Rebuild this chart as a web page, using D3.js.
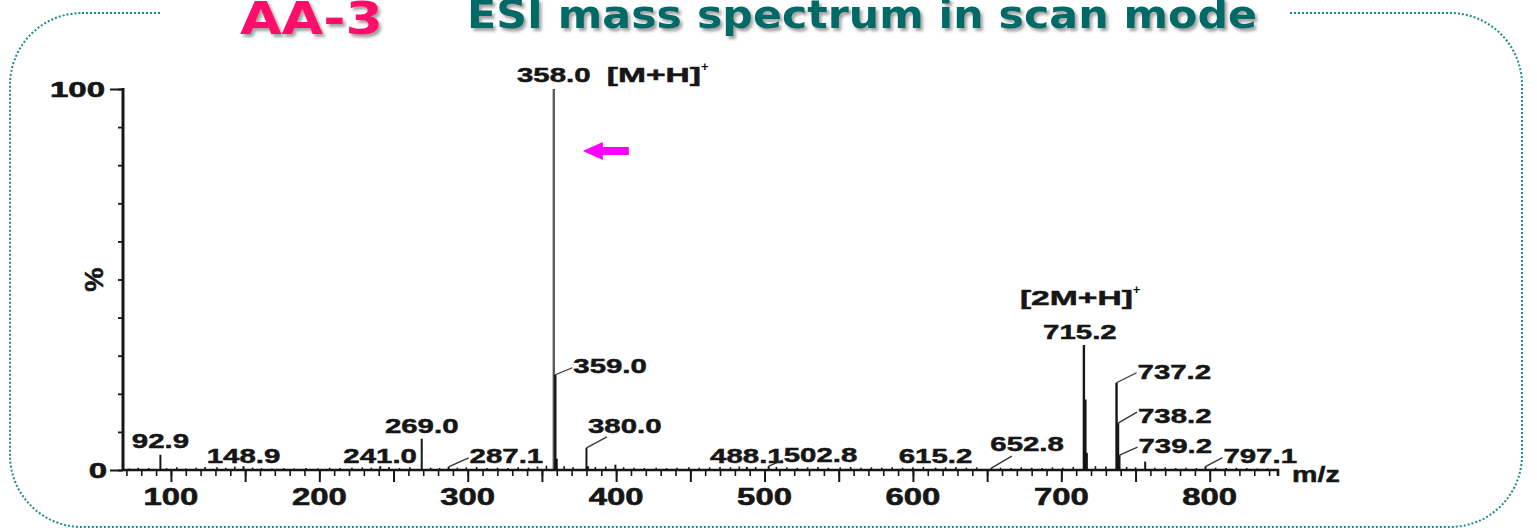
<!DOCTYPE html>
<html>
<head>
<meta charset="utf-8">
<script src="https://cdn.jsdelivr.net/npm/d3@7"></script>
<style>
  html, body { margin: 0; padding: 0; background: #fff; overflow: hidden; }
  svg { display: block; }
</style>
</head>
<body>
<svg id="chart" width="1537" height="528"></svg>
<script>
// ---- Ions of AA-3 (m/z, relative abundance %) ----
const peakMz        = [92.9, 148.9, 241.0, 269.0, 287.1, 358.0, 359.0, 360.0, 380.0, 381.0, 399.5,
                       488.1, 502.8, 615.2, 652.8, 715.2, 716.2, 717.2, 737.2, 738.2, 739.2, 756.5, 797.1];
const peakIntensity = [4.0, 1.0, 1.0, 8.2, 0.8, 100, 25, 3.0, 5.8, 1.0, 1.4,
                       0.8, 1.0, 0.6, 0.5, 32.8, 18.5, 4.5, 22.9, 12.3, 3.9, 2.2, 0.9];

// ---- Baseline noise ----
const noiseMz = [72, 78, 85, 97, 104, 110, 117, 123, 131, 137,
                 143, 155, 161, 168, 176, 183, 191, 199, 207, 214,
                 222, 229, 235, 247, 254, 261, 275, 281, 293, 299,
                 306, 313, 320, 327, 334, 341, 347, 353, 365, 371,
                 386, 393, 405, 412, 419, 427, 434, 441, 449, 456,
                 463, 470, 477, 483, 494, 508, 515, 522, 529, 536,
                 543, 551, 558, 565, 572, 579, 586, 593, 600, 607,
                 622, 629, 636, 643, 659, 666, 673, 680, 687, 694,
                 701, 708, 723, 730, 744, 750, 763, 770, 777, 784,
                 791, 804, 811, 818, 825, 832, 839];
const noiseIntensity = [0.4, 0.6, 0.5, 0.5, 0.7, 0.4, 0.6, 0.8, 0.7, 0.6,
                        0.9, 0.6, 0.5, 0.4, 0.5, 0.4, 0.5, 0.4, 0.6, 0.5,
                        0.6, 0.7, 0.6, 0.8, 0.5, 0.7, 0.6, 0.5, 0.6, 0.7,
                        0.8, 0.5, 0.6, 0.5, 0.7, 0.6, 0.9, 1.1, 1.0, 0.7,
                        0.8, 0.9, 0.7, 0.6, 0.5, 0.6, 0.5, 0.6, 0.7, 0.6,
                        0.7, 0.8, 0.7, 0.9, 0.8, 0.8, 0.7, 0.6, 0.7, 0.8,
                        0.6, 0.7, 0.8, 0.6, 0.7, 0.6, 0.7, 0.6, 0.7, 0.8,
                        0.7, 0.8, 0.6, 0.7, 0.6, 0.5, 0.7, 0.6, 0.5, 0.7,
                        0.6, 0.8, 1.0, 0.9, 0.8, 0.7, 0.6, 0.7, 0.5, 0.6,
                        0.5, 0.6, 0.5, 0.6, 0.5, 0.4, 0.4];

// ---- Annotated ions ----
const labelMz = [92.9, 148.9, 241.0, 269.0, 287.1, 358.0, 359.0, 380.0, 488.1, 502.8,
                 615.2, 652.8, 715.2, 737.2, 738.2, 739.2, 797.1];

// ---- Axis ticks ----
const xTickLabels = [100, 200, 300, 400, 500, 600, 700, 800];
const yTickLabels = [0, 100];
const xDomain = [67.7, 846];
const yDomain = [0, 100];

// Text titles
const titleCompound = "AA-3";
const titleMethod = "ESI mass spectrum in scan mode";
const ionLabels = [{ mz: 358.0, text: "[M+H]" }, { mz: 715.2, text: "[2M+H]" }];

// ---- label placement, in px relative to the top of the labelled line ----
const labelLayout = {
  "92.9":  { anchor: "middle", dx: 0,   dy: -7 },
  "148.9": { anchor: "middle", dx: 0,   dy: -3 },
  "241.0": { anchor: "middle", dx: 0,   dy: -3 },
  "269.0": { anchor: "middle", dx: 0,   dy: -6 },
  "287.1": { anchor: "start",  dx: 21,  dy: -4,  leader: [20, -9] },
  "358.0": { anchor: "middle", dx: 0,   dy: -7 },
  "359.0": { anchor: "start",  dx: 18,  dy: -2,  leader: [17, -7] },
  "380.0": { anchor: "start",  dx: 1.5, dy: -15, leader: [20.5, -11] },
  "488.1": { anchor: "middle", dx: 0,   dy: -4 },
  "502.8": { anchor: "start",  dx: 15,  dy: -4,  leader: [14, -6] },
  "615.2": { anchor: "middle", dx: 0,   dy: -5 },
  "652.8": { anchor: "start",  dx: -1,  dy: -17, leader: [20.5, -12] },
  "715.2": { anchor: "middle", dx: -4,  dy: -6 },
  "737.2": { anchor: "start",  dx: 21,  dy: -4,  leader: [20, -10] },
  "738.2": { anchor: "start",  dx: 20,  dy: 0,   leader: [19, -11] },
  "739.2": { anchor: "start",  dx: 19,  dy: -2,  leader: [18, -8] },
  "797.1": { anchor: "start",  dx: 18,  dy: -4,  leader: [17, -9] }
};

const svg = d3.select("#chart");
const W = 1537, H = 528;
const plot = { left: 123, right: 1278, top: 89, bottom: 470 };

const x = d3.scaleLinear().domain(xDomain).range([plot.left, plot.right]);
const y = d3.scaleLinear().domain(yDomain).range([plot.bottom, plot.top]);

const INK = "#161616";
const LABEL_FONT = "'Liberation Sans', Arial, Helvetica, sans-serif";
const TITLE_FONT = "'DejaVu Sans', Verdana, sans-serif";

// Bold text stretched horizontally by k (or to an explicit width)
function addText(parent, str, px, py, o) {
  const fill = o.fill || INK;
  const t = parent.append("text")
    .attr("y", py)
    .attr("font-family", o.family || LABEL_FONT)
    .attr("font-size", o.size)
    .attr("font-weight", "bold")
    .attr("fill", fill)
    .text(str);
  if (o.heavy) t.attr("stroke", fill).attr("stroke-width", o.heavy);
  const natural = t.node().getComputedTextLength();
  const target = o.width || natural * (o.k || 1);
  t.attr("textLength", target).attr("lengthAdjust", "spacingAndGlyphs");
  const anchor = o.anchor || "start";
  const left = anchor === "middle" ? px - target / 2 : anchor === "end" ? px - target : px;
  t.attr("x", left);
  return t;
}

// ---- defs ----
const defs = svg.append("defs");
const shadow = defs.append("filter").attr("id", "titleShadow")
  .attr("x", "-5%").attr("y", "-30%").attr("width", "110%").attr("height", "160%");
shadow.append("feDropShadow")
  .attr("dx", 2.5).attr("dy", 3).attr("stdDeviation", 1.6)
  .attr("flood-color", "#555").attr("flood-opacity", 0.55);

// ---- frame ----
svg.append("rect").attr("width", W).attr("height", H).attr("fill", "#fff");
svg.append("rect")
  .attr("x", 10).attr("y", 13).attr("width", 1512).attr("height", 514)
  .attr("rx", 72).attr("ry", 72)
  .attr("fill", "none")
  .attr("stroke", "#1a8c8c").attr("stroke-width", 2)
  .attr("stroke-dasharray", "2 2");
// title band interrupts the frame
svg.append("rect").attr("x", 160).attr("y", 0).attr("width", 1128).attr("height", 52).attr("fill", "#fff");

// ---- titles ----
const titles = svg.append("g").attr("filter", "url(#titleShadow)");
addText(titles, titleCompound, 240, 34, { size: 45, family: TITLE_FONT, fill: "#ff0a6a", width: 143 });
addText(titles, titleMethod, 467, 28, { size: 39, family: TITLE_FONT, fill: "#006a66", width: 790 });

// ---- noise ----
const noise = d3.zip(noiseMz, noiseIntensity);
svg.append("g").selectAll("line").data(noise).join("line")
  .attr("x1", d => x(d[0])).attr("x2", d => x(d[0]))
  .attr("y1", y(0)).attr("y2", d => y(d[1]))
  .attr("stroke", INK).attr("stroke-width", 1.6);

// ---- spectrum lines ----
const peaks = d3.zip(peakMz, peakIntensity);
svg.append("g").selectAll("line").data(peaks).join("line")
  .attr("x1", d => x(d[0])).attr("x2", d => x(d[0]))
  .attr("y1", y(0)).attr("y2", d => y(d[1]))
  .attr("stroke", d => d[1] >= 100 ? "#5c5c5c" : INK)
  .attr("stroke-width", d => d[1] >= 10 ? 2.4 : 2);

// ---- x axis ----
const axisG = svg.append("g");
const xMinor = d3.range(70, 846, 10);
const xMid = d3.range(100, 846, 50);
axisG.append("g").attr("transform", `translate(0,${plot.bottom})`)
  .call(d3.axisBottom(x).tickValues(xMinor).tickSize(6).tickSizeOuter(0).tickFormat(""))
  .call(g => g.select(".domain").remove())
  .call(g => g.selectAll(".tick line").attr("stroke", INK).attr("stroke-width", 1.6));
axisG.append("g").attr("transform", `translate(0,${plot.bottom})`)
  .call(d3.axisBottom(x).tickValues(xMid).tickSize(12).tickSizeOuter(0).tickFormat(""))
  .call(g => g.select(".domain").remove())
  .call(g => g.selectAll(".tick line").attr("stroke", INK).attr("stroke-width", 2));
// axis baseline with closing hook at the right end
axisG.append("path")
  .attr("d", `M${plot.left},${plot.bottom}H${plot.right}v6`)
  .attr("fill", "none").attr("stroke", INK).attr("stroke-width", 2.6);
xTickLabels.forEach(v => addText(axisG, String(v), x(v), 505, { size: 24, k: 1.37, anchor: "middle", heavy: 0.6 }));
addText(axisG, "m/z", 1292, 482, { size: 22, k: 1.3, heavy: 0.5 });

// ---- y axis ----
const yMinor = d3.range(0, 101, 10);
axisG.append("g").attr("transform", `translate(${plot.left},0)`)
  .call(d3.axisLeft(y).tickValues(yMinor).tickSize(5).tickSizeOuter(0).tickFormat(""))
  .call(g => g.select(".domain").remove())
  .call(g => g.selectAll(".tick line").attr("stroke", INK).attr("stroke-width", 1.8));
axisG.append("g").attr("transform", `translate(${plot.left},0)`)
  .call(d3.axisLeft(y).tickValues(yTickLabels).tickSize(13).tickSizeOuter(0).tickFormat(""))
  .call(g => g.select(".domain").remove())
  .call(g => g.selectAll(".tick line").attr("stroke", INK).attr("stroke-width", 2));
axisG.append("line")
  .attr("x1", plot.left).attr("x2", plot.left)
  .attr("y1", plot.top - 1).attr("y2", plot.bottom)
  .attr("stroke", INK).attr("stroke-width", 3);
yTickLabels.forEach(v => addText(axisG, String(v), v === 0 ? 107 : 105, y(v) + 8, { size: 22, k: 1.5, anchor: "end", heavy: 0.6 }));
const pct = axisG.append("g").attr("transform", `translate(103,${y(50)}) rotate(-90)`);
addText(pct, "%", 0, 0, { size: 26, k: 1.05, anchor: "middle", heavy: 0.5 });

// ---- peak labels ----
const fmt = d3.format(".1f");
const labG = svg.append("g");
labelMz.forEach(mz => {
  const i = peakMz.indexOf(mz);
  const px = x(mz), py = y(peakIntensity[i]);
  const L = labelLayout[fmt(mz)];
  if (L.leader) {
    labG.append("line")
      .attr("x1", px).attr("y1", py)
      .attr("x2", px + L.leader[0]).attr("y2", py + L.leader[1])
      .attr("stroke", "#333").attr("stroke-width", 1.3);
  }
  addText(labG, fmt(mz), px + L.dx, py + L.dy, { size: 21, k: 1.4, anchor: L.anchor, heavy: 0.5 });
});

// ion assignments
const ionLayout = { "358.0": { dx: 53, dy: -7 }, "715.2": { dx: -64, dy: -40 } };
ionLabels.forEach(d => {
  const i = peakMz.indexOf(d.mz);
  const px = x(d.mz), py = y(peakIntensity[i]);
  const L = ionLayout[fmt(d.mz)];
  const t = addText(labG, d.text, px + L.dx, py + L.dy, { size: 21, k: 1.6, heavy: 0.5 });
  const right = +t.attr("x") + +t.attr("textLength");
  addText(labG, "+", right, py + L.dy - 11, { size: 13, k: 1.0 });
});

// ---- arrow pointing at the base peak ----
const tipX = x(358.0) + 29, tipY = y(83.7);
const arrow = d3.path();
arrow.moveTo(tipX, tipY);
arrow.lineTo(tipX + 20, tipY - 9);
arrow.lineTo(tipX + 20, tipY - 4);
arrow.lineTo(tipX + 46, tipY - 4);
arrow.lineTo(tipX + 46, tipY + 4);
arrow.lineTo(tipX + 20, tipY + 4);
arrow.lineTo(tipX + 20, tipY + 9);
arrow.closePath();
svg.append("path").attr("d", arrow.toString()).attr("fill", "#ff00ff");
</script>
</body>
</html>
